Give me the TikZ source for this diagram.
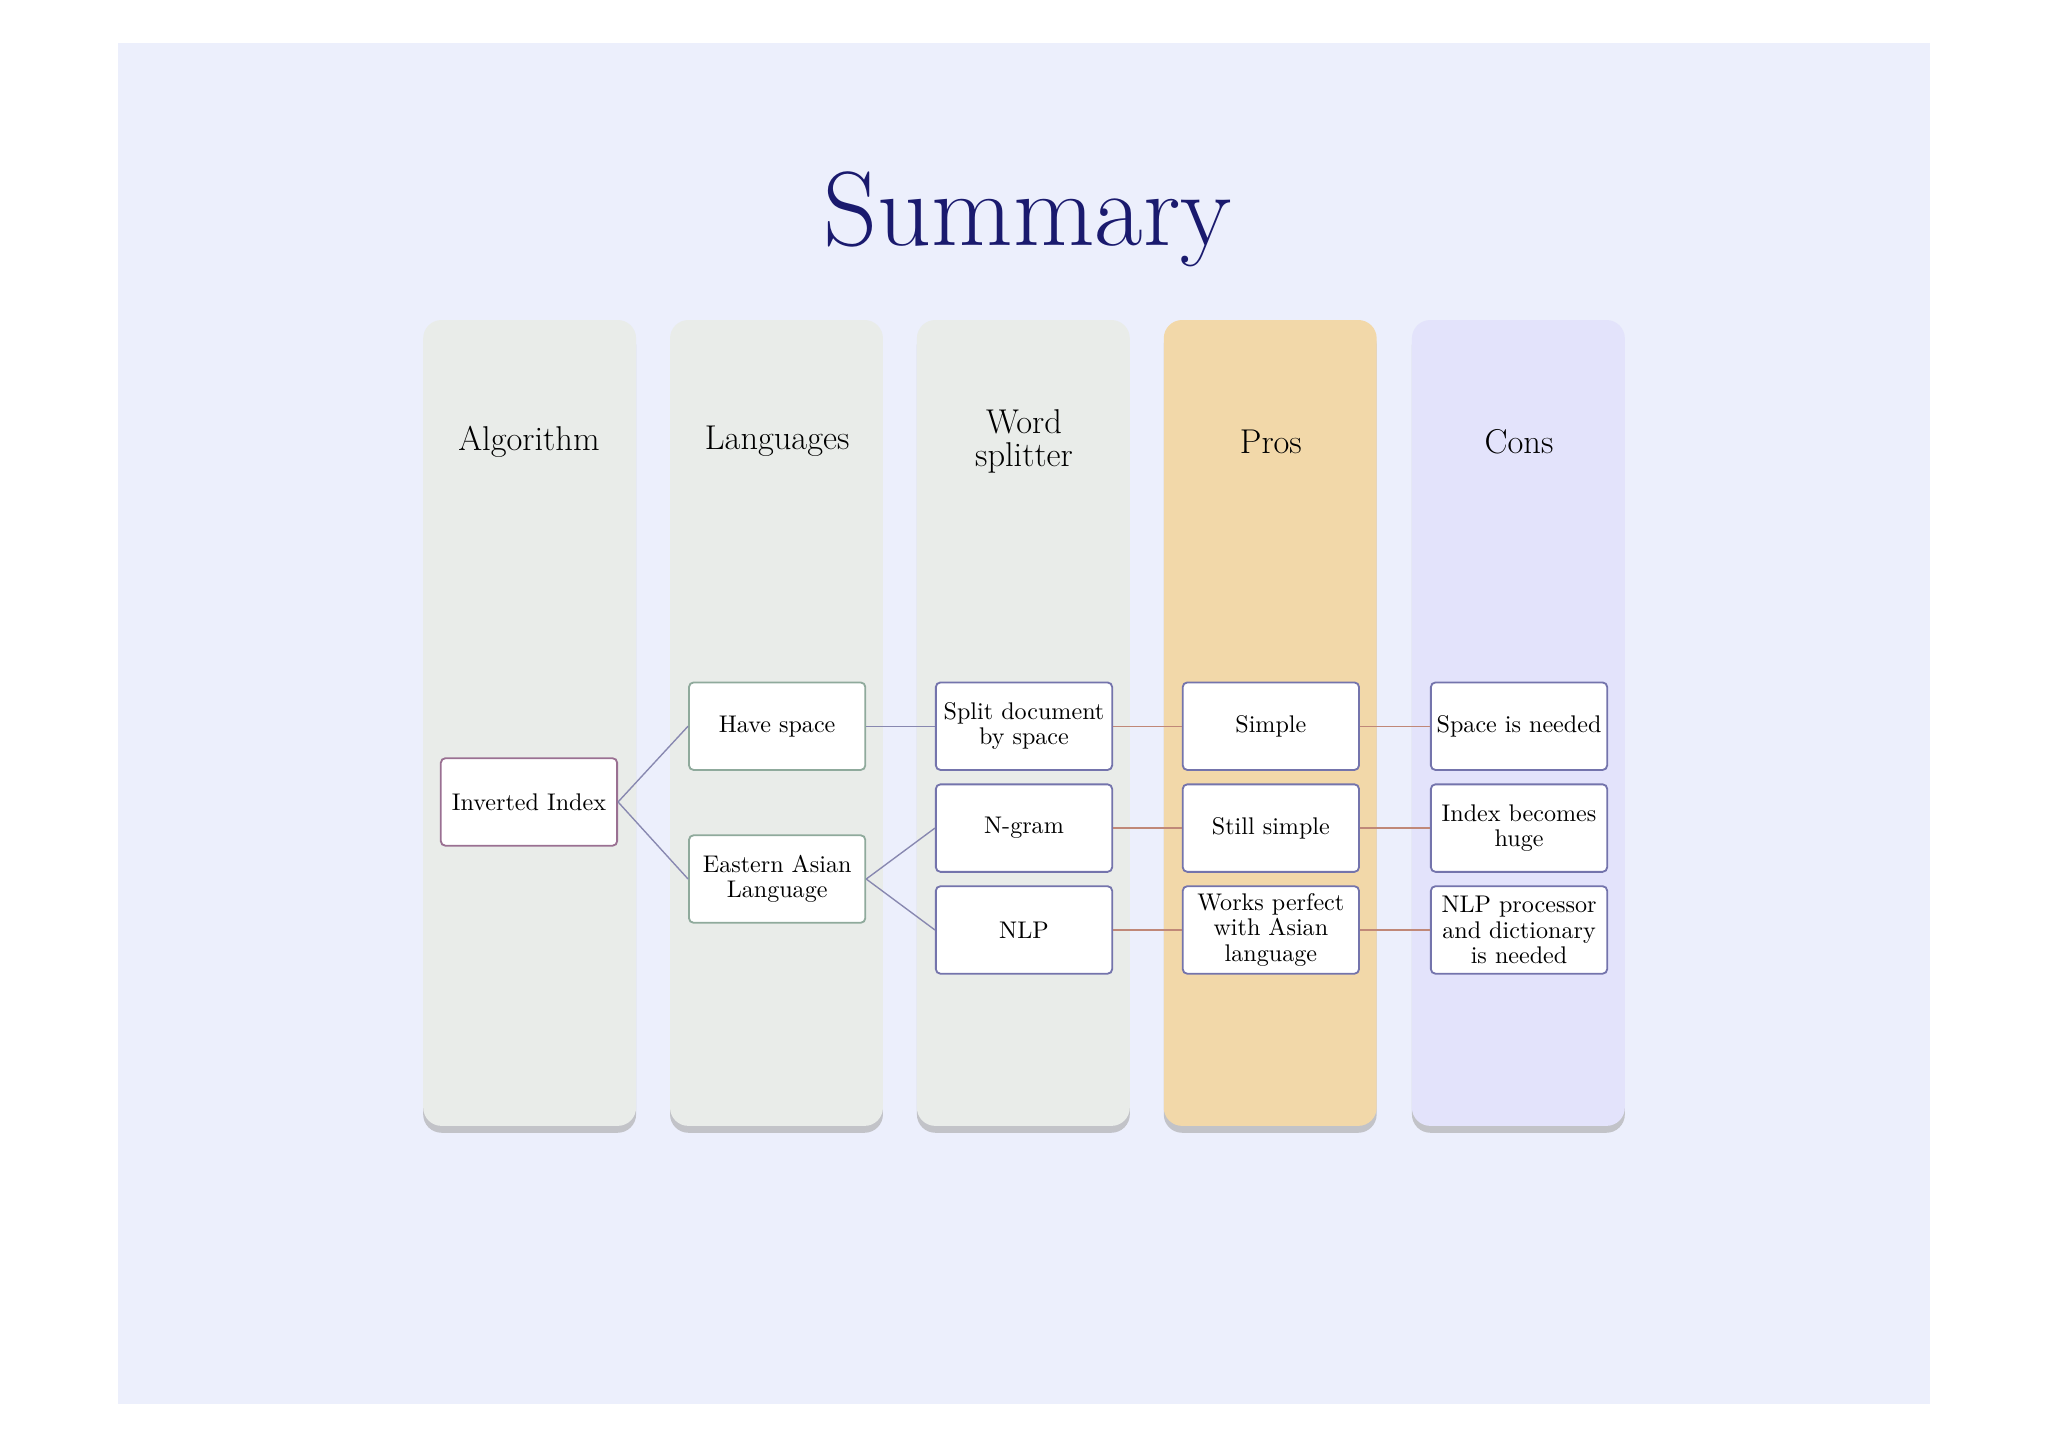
\documentclass[tikz,border=0pt]{standalone}
\usetikzlibrary{shadows}
\begin{document}
\begin{tikzpicture}[x=0.02cm,y=-0.02cm,
  col/.style={rounded corners=8pt,draw=none,drop shadow={shadow xshift=0pt,shadow yshift=-3pt,fill=black!35,opacity=.6}},
  hdr/.style={font=\fontsize{15}{16}\selectfont,align=center},
  bx/.style={draw,thick,fill=white,rounded corners=2pt,minimum width=135*0.02cm,minimum height=67*0.02cm,inner sep=1pt,align=center,font=\fontsize{10.5}{11}\selectfont},
  lk/.style={line width=0.6pt}]
\definecolor{bg}{HTML}{ECEFFC}
\definecolor{gcol}{HTML}{E9ECE9}
\definecolor{ocol}{HTML}{F2D8A9}
\definecolor{lcol}{HTML}{E3E3FB}
\definecolor{bA}{HTML}{9A7092}
\definecolor{bL}{HTML}{8FAA9C}
\definecolor{bW}{HTML}{7474AC}
\definecolor{lp}{HTML}{8888B0}
\definecolor{lr}{HTML}{C08878}
\definecolor{navy}{HTML}{1A1A6E}
\useasboundingbox (0,0) rectangle (1568,1108);
\fill[white] (0,0) rectangle (1568,1108);
\fill[bg] (90,33) rectangle (1478,1075);
\node[text=navy,font=\fontsize{46}{50}\selectfont] (title) at (787,168) {Summary};
\foreach \n/\x/\c in {c1/324/gcol,c2/513/gcol,c3/702/gcol,c4/891/ocol,c5/1081/lcol}
  \path[col,fill=\c] (\x,245) rectangle ++(163,617);
\node[hdr] (h1) at (405,338) {Algorithm};
\node[hdr] (h2) at (595,338) {Languages};
\node[hdr] (h3) at (784,338) {Word\\[-2pt]splitter};
\node[hdr] (h4) at (973,338) {Pros};
\node[hdr] (h5) at (1163,338) {Cons};
\node[bx,draw=bA] (ii) at (405,614) {Inverted Index};
\node[bx,draw=bL] (hs) at (595,556) {Have space};
\node[bx,draw=bL] (ea) at (595,673) {Eastern Asian\\Language};
\node[bx,draw=bW] (sd) at (784,556) {Split document\\by space};
\node[bx,draw=bW] (ng) at (784,634) {N-gram};
\node[bx,draw=bW] (nlp) at (784,712) {NLP};
\node[bx,draw=bW] (p1) at (973,556) {Simple};
\node[bx,draw=bW] (p2) at (973,634) {Still simple};
\node[bx,draw=bW] (p3) at (973,712) {Works perfect\\with Asian\\language};
\node[bx,draw=bW] (k1) at (1163,556) {Space is needed};
\node[bx,draw=bW] (k2) at (1163,634) {Index becomes\\huge};
\node[bx,draw=bW] (k3) at (1163,712) {NLP processor\\and dictionary\\is needed};
\draw[lk,lp] (ii.east) -- (hs.west);
\draw[lk,lp] (ii.east) -- (ea.west);
\draw[lk,lp] (hs) -- (sd);
\draw[lk,lp] (ea.east) -- (ng.west);
\draw[lk,lp] (ea.east) -- (nlp.west);
\draw[lk,lr] (sd) -- (p1); \draw[lk,lr] (ng) -- (p2); \draw[lk,lr] (nlp) -- (p3);
\draw[lk,lr] (p1) -- (k1); \draw[lk,lr] (p2) -- (k2); \draw[lk,lr] (p3) -- (k3);
\end{tikzpicture}
\end{document}
